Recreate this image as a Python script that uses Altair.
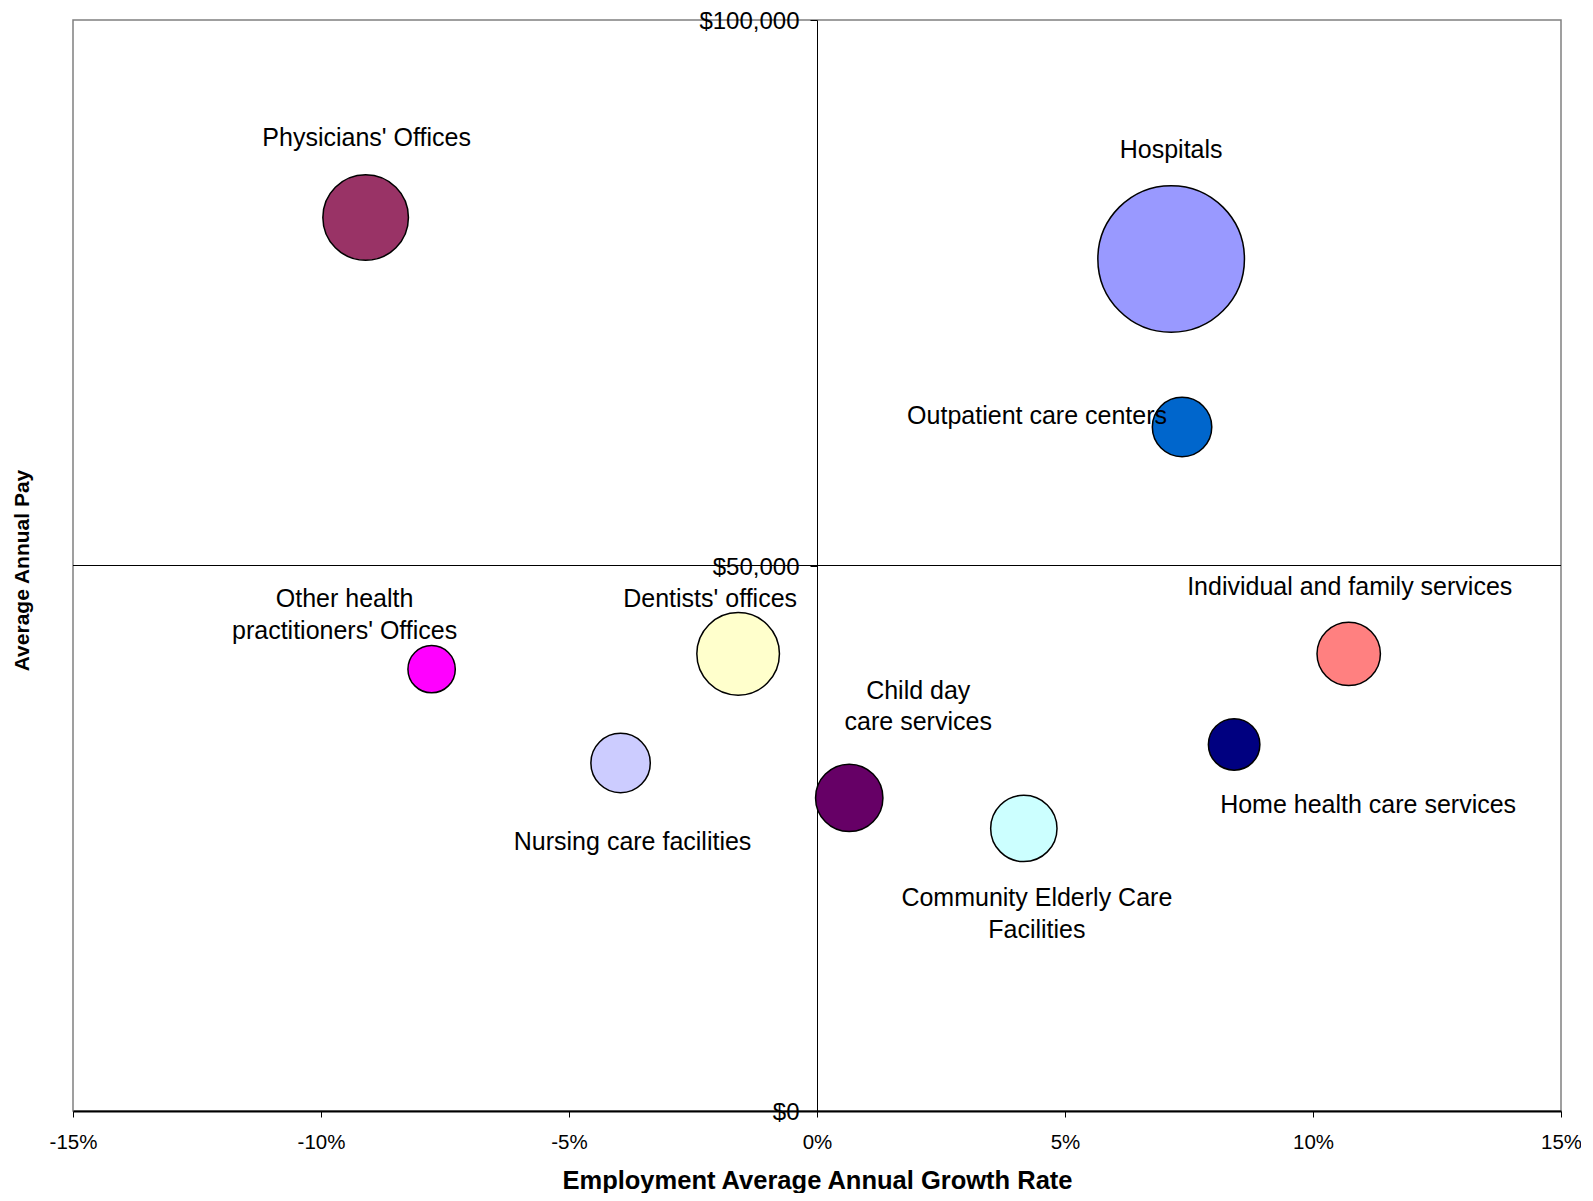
import altair as alt
import pandas as pd

# ---------------- data ----------------
sectors = [
    "Physicians' Offices", "Hospitals", "Outpatient care centers",
    "Other health practitioners' Offices", "Dentists' offices",
    "Nursing care facilities", "Child day care services",
    "Community Elderly Care Facilities", "Home health care services",
    "Individual and family services",
]
growth_pct = [-9.10, 7.14, 7.36, -7.77, -1.59, -3.96, 0.65, 4.17, 8.41, 10.72]
avg_pay = [81900, 78100, 62700, 40500, 41900, 31900, 28700, 25900, 33600, 41900]
employment_weight = [1866, 5476, 900, 571, 1739, 900, 1156, 1122, 676, 1024]
label_lines = [
    ["Physicians' Offices"], ["Hospitals"], ["Outpatient care centers"],
    ["Other health", "practitioners' Offices"], ["Dentists' offices"],
    ["Nursing care facilities"], ["Child day", "care services"],
    ["Community Elderly Care", "Facilities"], ["Home health care services"],
    ["Individual and family services"],
]
x_ticks = [-0.15, -0.10, -0.05, 0.0, 0.05, 0.10, 0.15]
y_ticks = [0, 50000, 100000]

# ---------------- style ----------------
colors = ["#993366", "#9999FF", "#0066CC", "#FF00FF", "#FFFFCC",
          "#CCCCFF", "#660066", "#CCFFFF", "#000080", "#FF8080"]
# offsets (px) of the first text line from the bubble centre
label_offsets = [(1, -79), (0, -109), (-145, -11), (-87, -70), (-28, -55),
                 (12, 79), (69, -107), (13, 70), (134, 61), (1, -67)]
FONT = "Liberation Sans"
W, H = 1488, 1091
MAX_AREA = (2 * 73.3) ** 2   # Vega symbol size = bounding-box area

df = pd.DataFrame({
    "sector": sectors,
    "growth": [g / 100 for g in growth_pct],
    "pay": avg_pay,
    "weight": employment_weight,
    "label": ["\n".join(l) for l in label_lines],
})

x_scale = alt.Scale(domain=[-0.15, 0.15], nice=False, zero=False)
y_scale = alt.Scale(domain=[0, 100000], nice=False)

x_enc = alt.X(
    "growth:Q", scale=x_scale,
    axis=alt.Axis(
        values=x_ticks,
        labelExpr="(datum.value < -0.0001 ? '-' : '') + format(abs(datum.value), '.0%')",
        title="Employment Average Annual Growth Rate",
        titleFont=FONT, titleFontSize=25.5, titleFontWeight="bold", titleColor="black",
        titleBaseline="middle", titleY=69,
        labelFont=FONT, labelFontSize=20.5, labelColor="black", labelPadding=15,
        tickSize=6, tickColor="black", domainColor="black", domainWidth=2,
        grid=False, labelFlush=False, labelOverlap=False, labelBound=False,
    ),
)
y_enc = alt.Y(
    "pay:Q", scale=y_scale,
    axis=alt.Axis(
        values=y_ticks, format="$,.0f", offset=-W / 2,
        title="Average Annual Pay",
        titleFont=FONT, titleFontSize=21, titleFontWeight="bold", titleColor="black",
        titleAngle=270, titleBaseline="middle", titleAlign="center",
        titleX=-795, titleY=550,
        labelFont=FONT, labelFontSize=24, labelColor="black", labelPadding=11,
        labelBaseline="middle", labelOffset=1.5,
        tickSize=7, tickColor="black", domainColor="black", domainWidth=1,
        grid=False, labelFlush=False, labelOverlap=False, labelBound=False,
    ),
)

base = alt.Chart(df)

mid_rule = base.mark_rule(color="black", strokeWidth=1).encode(
    y=alt.datum(50000, scale=y_scale)
)

bubbles = base.mark_circle(opacity=1, stroke="black", strokeWidth=1.5).encode(
    x=x_enc,
    y=y_enc,
    size=alt.Size("weight:Q", scale=alt.Scale(domain=[0, max(employment_weight)],
                                              range=[0, MAX_AREA], zero=True),
                  legend=None),
    color=alt.Color("sector:N", scale=alt.Scale(domain=sectors, range=colors),
                    legend=None),
)

text_layers = []
for name, (dx, dy) in zip(sectors, label_offsets):
    t = base.transform_filter(alt.datum.sector == name).mark_text(
        dx=dx, dy=dy, font=FONT, fontSize=25, color="black",
        align="center", baseline="middle", lineBreak="\n", lineHeight=31.5,
    ).encode(
        x=alt.X("growth:Q", scale=x_scale),
        y=alt.Y("pay:Q", scale=y_scale),
        text="label:N",
    )
    text_layers.append(t)

chart = alt.layer(mid_rule, bubbles, *text_layers).properties(
    width=W, height=H,
    autosize=alt.AutoSizeParams(type="none"),
    padding={"left": 65, "top": 12, "right": 20, "bottom": 82},
    background="white",
).configure_view(stroke="#808080", strokeWidth=1.5)

chart.save("out.html", embed_options={"renderer": "svg", "actions": False})
